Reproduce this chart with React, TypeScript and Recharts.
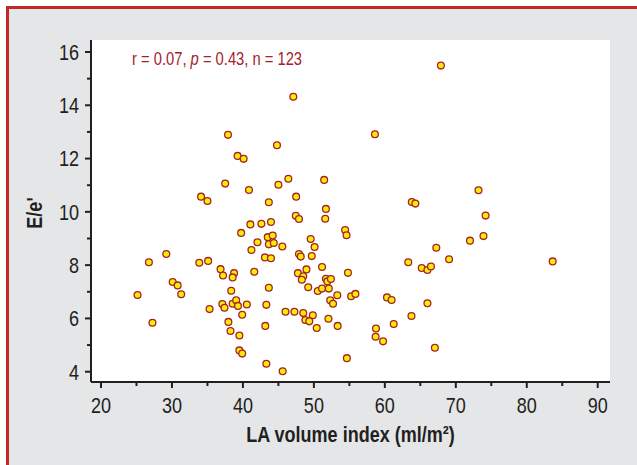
import { ScatterChart, Scatter, XAxis, YAxis, CartesianGrid } from 'recharts'

/* ── Data ───────────────────────────────────────────────────────────── */

// LA volume index (ml/m²)
const laVolume = [
  67.9, 47.1, 37.9, 44.8, 58.6, 39.25, 40.1, 46.4, 37.5, 45.0, 51.45, 40.85, 73.2, 34.1, 35.0, 47.5,
  63.8, 64.3, 43.65, 51.7, 74.2, 47.45, 47.9, 51.6, 54.4, 54.6, 73.9, 72.0, 67.25, 69.05, 83.65, 63.3,
  65.2, 66.0, 66.5, 54.8, 60.3, 60.95, 66.0, 63.75, 61.25, 58.75, 58.7, 59.75, 67.05, 54.65, 41.05, 42.6,
  43.95, 43.5, 44.2, 42.05, 43.65, 44.35, 41.2, 45.55, 49.55, 50.1, 43.1, 43.95, 47.9, 48.15, 49.7, 51.15,
  41.6, 47.75, 48.95, 48.5, 48.3, 51.7, 51.9, 52.4, 43.65, 49.2, 50.55, 51.15, 52.1, 53.3, 52.3, 52.7,
  55.25, 55.85, 43.3, 46.0, 47.25, 48.5, 49.85, 48.8, 49.35, 52.05, 50.4, 53.35, 43.15, 43.3, 45.6, 39.75,
  29.2, 26.75, 33.85, 35.1, 36.85, 37.2, 38.75, 38.55, 30.1, 30.8, 31.3, 25.15, 38.35, 37.1, 37.4, 38.55,
  39.05, 39.3, 40.55, 35.3, 39.9, 27.25, 37.95, 38.25, 39.5, 39.5, 39.9,
]

// E/e'
const eRatio = [
  15.49, 14.32, 12.89, 12.5, 12.91, 12.1, 11.99, 11.24, 11.06, 11.02, 11.2, 10.82, 10.81, 10.57, 10.41, 10.57,
  10.37, 10.31, 10.36, 10.11, 9.86, 9.85, 9.73, 9.74, 9.32, 9.12, 9.09, 8.92, 8.65, 8.22, 8.14, 8.11,
  7.89, 7.82, 7.95, 7.71, 6.79, 6.69, 6.57, 6.09, 5.79, 5.62, 5.31, 5.14, 4.9, 4.51, 9.53, 9.55,
  9.62, 9.05, 9.11, 8.86, 8.78, 8.83, 8.57, 8.7, 8.98, 8.68, 8.29, 8.26, 8.42, 8.32, 8.34, 7.93,
  7.75, 7.7, 7.84, 7.58, 7.45, 7.49, 7.39, 7.48, 7.15, 7.17, 7.03, 7.12, 7.12, 6.87, 6.68, 6.55,
  6.83, 6.92, 6.51, 6.25, 6.25, 6.2, 6.12, 5.94, 5.89, 5.99, 5.64, 5.72, 5.72, 4.3, 4.02, 9.21,
  8.42, 8.11, 8.09, 8.16, 7.85, 7.61, 7.7, 7.54, 7.37, 7.24, 6.91, 6.88, 7.04, 6.54, 6.4, 6.55,
  6.68, 6.47, 6.52, 6.35, 6.14, 5.84, 5.87, 5.53, 5.36, 4.8, 4.68,
]

const xTicks = [20, 25, 30, 35, 40, 45, 50, 55, 60, 65, 70, 75, 80, 85, 90]
const yTicks = [4, 5, 6, 7, 8, 9, 10, 11, 12, 13, 14, 15, 16]

const statsLabel = { r: '0.07', p: '0.43', n: '123' }

/* ── Styling ────────────────────────────────────────────────────────── */

const INK = '#231f20'
const DARK_RED = '#a3232a'
// no narrow face installed: squeeze Liberation Sans (Arial metrics) horizontally
const FONT = "'Liberation Sans', Arial, sans-serif"
const SQUEEZE = 0.82
const TICK = 6
const X_MARGIN = 9
const Y_MARGIN = 6

/* ── Custom ticks: long major tick with label, short unlabeled minor ── */

function XTick({ x, y, payload }: any) {
  const major = payload.value % 10 === 0
  const axisY = y - TICK - X_MARGIN
  return (
    <g>
      <line x1={x} x2={x} y1={axisY} y2={axisY + (major ? TICK : 4)} stroke={INK} strokeWidth={2} />
      {major && (
        <text
          transform={`translate(${x},${y}) scale(${SQUEEZE},1)`}
          dy="0.71em"
          textAnchor="middle"
          fill={INK}
          fontSize={22}
          fontFamily={FONT}
        >
          {payload.value}
        </text>
      )}
    </g>
  )
}

function YTick({ x, y, payload }: any) {
  const major = payload.value % 2 === 0
  const axisX = x + TICK + Y_MARGIN
  return (
    <g>
      <line x1={axisX} x2={axisX - (major ? TICK : 4)} y1={y} y2={y} stroke={INK} strokeWidth={2} />
      {major && (
        <text
          transform={`translate(${x},${y}) scale(${SQUEEZE},1)`}
          dy="0.355em"
          textAnchor="end"
          fill={INK}
          fontSize={22}
          fontFamily={FONT}
        >
          {payload.value}
        </text>
      )}
    </g>
  )
}

function Dot({ cx, cy }: any) {
  return <circle cx={cx} cy={cy} r={3.4} fill="#ffec00" stroke={DARK_RED} strokeWidth={1.3} />
}

export default function App() {
  const data = laVolume.map((x, i) => ({ x, y: eRatio[i] }))

  return (
    <div style={{ position: 'fixed', left: 0, top: 0, width: 637, height: 465, background: '#fff', overflow: 'hidden' }}>
      {/* red-edged grey panel */}
      <div
        style={{
          position: 'absolute',
          left: 6,
          top: 6,
          width: 660,
          height: 480,
          background: '#e5e6e8',
          borderTop: '3px solid #c1272d',
          borderLeft: '3px solid #c1272d',
        }}
      />

      <div style={{ position: 'absolute', left: 0, top: 0 }}>
        <ScatterChart width={637} height={465} margin={{ top: 40, right: 27, bottom: 0, left: 31 }}>
          <CartesianGrid fill="#ffffff" stroke="none" horizontal={false} vertical={false} />
          <XAxis
            type="number"
            dataKey="x"
            domain={[18.59, 91.73]}
            ticks={xTicks}
            interval={0}
            allowDataOverflow
            height={83}
            tickSize={TICK}
            tickMargin={X_MARGIN}
            tickLine={false}
            tick={<XTick />}
            axisLine={{ stroke: INK, strokeWidth: 2 }}
          />
          <YAxis
            type="number"
            dataKey="y"
            domain={[3.614, 16.45]}
            ticks={yTicks}
            interval={0}
            allowDataOverflow
            width={60}
            tickSize={TICK}
            tickMargin={Y_MARGIN}
            tickLine={false}
            tick={<YTick />}
            axisLine={{ stroke: INK, strokeWidth: 2 }}
          />
          <Scatter data={data} shape={<Dot />} isAnimationActive={false} />
        </ScatterChart>
      </div>

      {/* annotation and axis titles */}
      <svg width={637} height={465} style={{ position: 'absolute', left: 0, top: 0, pointerEvents: 'none' }}>
        <text transform={`translate(132,64.5) scale(${SQUEEZE},1)`} fill={DARK_RED} fontSize={18} fontFamily={FONT}>
          {`r = ${statsLabel.r}, `}
          <tspan fontStyle="italic">p</tspan>
          {` = ${statsLabel.p}, n = ${statsLabel.n}`}
        </text>
        <text
          transform={`translate(350.5,442) scale(${SQUEEZE},1)`}
          textAnchor="middle"
          fill={INK}
          fontSize={22}
          fontWeight="bold"
          fontFamily={FONT}
        >
          LA volume index (ml/m²)
        </text>
        <text
          transform={`translate(41.5,213) rotate(-90) scale(${SQUEEZE},1)`}
          textAnchor="middle"
          fill={INK}
          fontSize={22}
          fontWeight="bold"
          fontFamily={FONT}
        >
          E/e'
        </text>
      </svg>
    </div>
  )
}
